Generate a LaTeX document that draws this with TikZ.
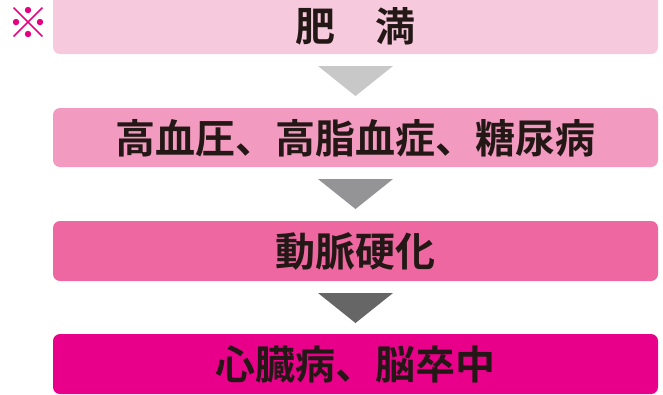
\documentclass[tikz,border=0pt]{standalone}
\usepackage{fontspec}
\setmainfont{Noto Sans CJK JP Bold}
\newfontfamily\jpb{Noto Sans CJK JP Bold}
\definecolor{boxA}{HTML}{F7C9DC}
\definecolor{boxB}{HTML}{F39AC0}
\definecolor{boxC}{HTML}{EE67A1}
\definecolor{boxD}{HTML}{E8008A}
\definecolor{triA}{HTML}{C8C8C9}
\definecolor{triB}{HTML}{949496}
\definecolor{triC}{HTML}{666667}
\definecolor{ink}{HTML}{231815}
\definecolor{mark}{HTML}{E4007F}
\begin{document}
\begin{tikzpicture}[x=1bp,y=-1bp,
  stagebox/.style={fill=#1,draw=none,rounded corners=7bp},
  label/.style={text=ink,font=\jpb\fontsize{40bp}{42bp}\selectfont,inner sep=0pt,anchor=center},
  arrowtri/.style={fill=#1,draw=none}]
\useasboundingbox (0,0) rectangle (663,394);
\begin{scope}
\clip (0,0) rectangle (663,394);
\fill[stagebox=boxA] (53,-8) rectangle (658,54);
\fill[stagebox=boxB] (53,108) rectangle (658,167);
\fill[stagebox=boxC] (53,221) rectangle (658,281);
\fill[stagebox=boxD] (53,334) rectangle (658,394);
\end{scope}
\node[label] (t1) at (355.5,26) {肥　満};
\node[label] (t2) at (355.5,138) {高血圧、高脂血症、糖尿病};
\node[label] (t3) at (355.5,251) {動脈硬化};
\node[label] (t4) at (355.5,364) {心臓病、脳卒中};
\node[text=mark,font=\jpb\fontsize{42bp}{44bp}\selectfont,inner sep=0pt] (m) at (28,23) {※};
\fill[arrowtri=triA] (318,66) -- (393,66) -- (355.5,96) -- cycle;
\fill[arrowtri=triB] (318,179) -- (393,179) -- (355.5,209) -- cycle;
\fill[arrowtri=triC] (318,293) -- (393,293) -- (355.5,323) -- cycle;
\end{tikzpicture}
\end{document}
